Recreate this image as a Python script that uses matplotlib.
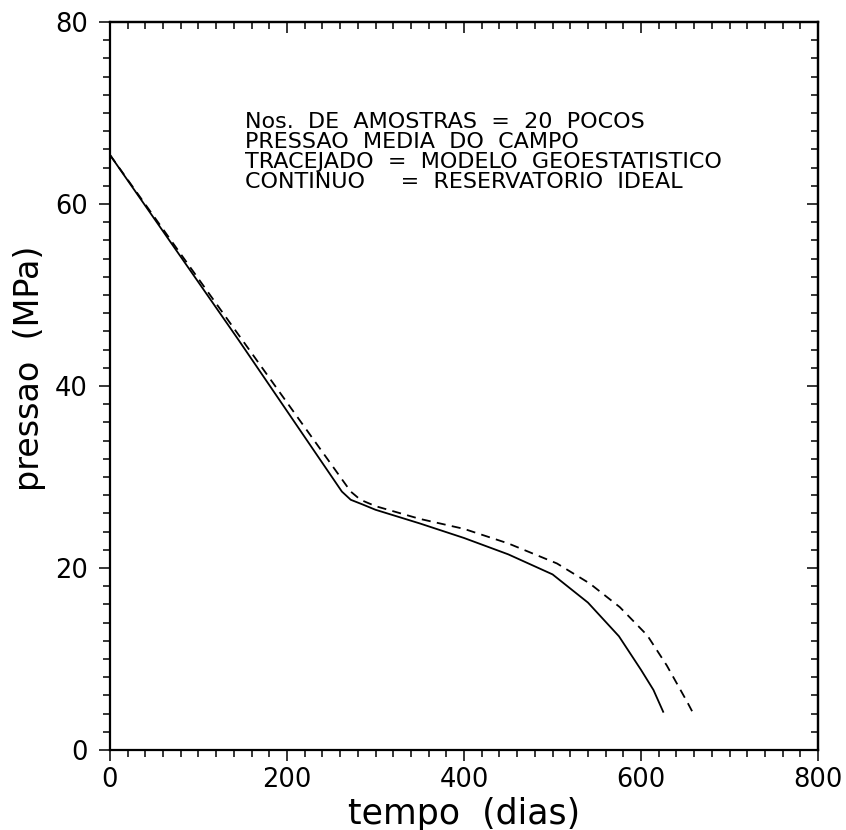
"""Pressao media do campo: modelo geoestatistico x reservatorio ideal"""

import matplotlib
matplotlib.use('Agg')
import matplotlib.pyplot as plt
from matplotlib.ticker import MultipleLocator

# reservatorio ideal (linha continua)
ideal_t = [0, 145, 262, 272, 285, 300, 350, 400, 450, 500, 540, 575, 600,
           614, 625]
ideal_p = [65.4, 45.1, 28.4, 27.5, 27.0, 26.4, 24.9, 23.3, 21.5, 19.3, 16.2,
           12.5, 8.8, 6.6, 4.2]

# modelo geoestatistico (tracejado)
geo_t = [0, 80, 272, 283, 300, 350, 400, 450, 505, 542, 576, 607, 629, 652,
         658]
geo_p = [65.4, 54.5, 28.4, 27.5, 26.8, 25.4, 24.3, 22.7, 20.5, 18.3, 15.7,
         12.6, 9.3, 5.3, 4.2]

annot_lines = [
    'Nos.  DE  AMOSTRAS  =  20  POCOS',
    'PRESSAO  MEDIA  DO  CAMPO',
    'TRACEJADO  =  MODELO  GEOESTATISTICO',
    'CONTINUO     =  RESERVATORIO  IDEAL',
]


def main():
    """Main"""
    fig = plt.figure(figsize=(8.46, 8.30), dpi=100)
    ax = fig.add_axes([0.130, 0.0964, 0.837, 0.877])

    ax.plot(ideal_t, ideal_p, color='black', linewidth=1.3)
    ax.plot(geo_t, geo_p, color='black', linewidth=1.3,
            dashes=(5, 3.5))

    ax.set_xlim(0, 800)
    ax.set_ylim(0, 80)
    ax.xaxis.set_major_locator(MultipleLocator(200))
    ax.xaxis.set_minor_locator(MultipleLocator(20))
    ax.yaxis.set_major_locator(MultipleLocator(20))
    ax.yaxis.set_minor_locator(MultipleLocator(2))
    ax.tick_params(which='both', direction='out', width=1.1,
                   labelsize=18.5)
    ax.tick_params(which='major', length=8)
    ax.tick_params(which='minor', length=5)
    ax.tick_params(axis='x', pad=4)
    ax.tick_params(axis='y', pad=8)

    # top and right: ticks pointing inwards, no labels
    top = ax.secondary_xaxis('top')
    right = ax.secondary_yaxis('right')
    top.xaxis.set_major_locator(MultipleLocator(200))
    top.xaxis.set_minor_locator(MultipleLocator(20))
    right.yaxis.set_major_locator(MultipleLocator(20))
    right.yaxis.set_minor_locator(MultipleLocator(2))
    for sec in (top, right):
        sec.tick_params(which='both', direction='in', width=1.1,
                        labeltop=False, labelright=False)
        sec.tick_params(which='major', length=8)
        sec.tick_params(which='minor', length=5)
        for spine in sec.spines.values():
            spine.set_linewidth(1.6)

    for spine in ax.spines.values():
        spine.set_linewidth(1.6)

    ax.set_xlabel('tempo  (dias)', fontsize=25, va='top')
    ax.xaxis.set_label_coords(0.5, -0.064)
    ax.set_ylabel('pressao  (MPa)', fontsize=24)
    ax.yaxis.set_label_coords(-0.09, 0.525)

    for i, line in enumerate(annot_lines):
        ax.text(0.19, 0.854 - i * 0.0275, line, transform=ax.transAxes,
                fontsize=16, va='baseline', ha='left')

    fig.savefig('out.png', dpi=100)


if __name__ == '__main__':
    main()
